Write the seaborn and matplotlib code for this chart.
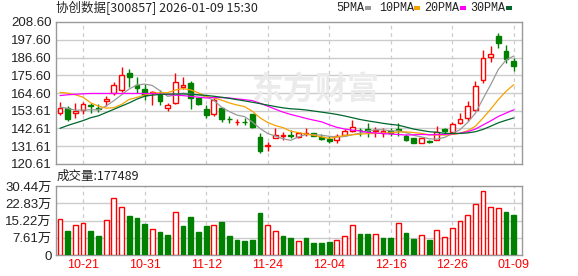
import matplotlib
matplotlib.use("Agg")
import matplotlib.pyplot as plt
from matplotlib.patches import Rectangle
import numpy as np
import pandas as pd
import seaborn as sns

# ---------------- data ----------------
dates = ["10-16", "10-17", "10-20", "10-21", "10-22", "10-23", "10-24", "10-27", "10-28", "10-29",
         "10-30", "10-31", "11-03", "11-04", "11-05", "11-06", "11-07", "11-10", "11-11", "11-12",
         "11-13", "11-14", "11-17", "11-18", "11-19", "11-20", "11-21", "11-24", "11-25", "11-26",
         "11-27", "11-28", "12-01", "12-02", "12-03", "12-04", "12-05", "12-08", "12-09", "12-10",
         "12-11", "12-12", "12-15", "12-16", "12-17", "12-18", "12-19", "12-22", "12-23", "12-24",
         "12-25", "12-26", "12-29", "12-30", "12-31", "01-05", "01-06", "01-07", "01-08", "01-09"]

opens = [152.2, 155.3, 152.5, 154.1, 156.9, 155.3, 159.6, 164.6, 166.5, 177.0,
         169.6, 167.1, 164.6, 163.4, 155.3, 158.4, 168.3, 170.8, 161.2, 154.7,
         151.3, 155.3, 148.5, 146.5, 146.9, 151.3, 137.3, 131.8, 137.0, 137.8,
         138.8, 137.5, 139.4, 139.6, 137.5, 135.9, 135.5, 138.4, 141.3, 141.9,
         142.1, 141.0, 139.8, 141.0, 142.4, 137.8, 136.5, 133.4, 135.1, 135.5,
         142.0, 140.6, 146.2, 148.9, 154.1, 172.4, 187.1, 199.9, 190.8, 184.4]
highs = [159.0, 156.6, 158.4, 159.0, 158.7, 157.5, 162.8, 171.4, 180.7, 179.5,
         174.5, 170.2, 165.9, 166.5, 158.4, 176.7, 174.5, 172.0, 162.1, 156.9,
         161.2, 156.2, 150.4, 148.8, 149.1, 151.9, 139.8, 134.2, 142.9, 140.4,
         141.5, 140.6, 142.7, 140.1, 139.5, 137.7, 139.2, 142.1, 147.7, 143.2,
         146.2, 143.4, 142.7, 142.9, 145.8, 139.5, 137.0, 137.0, 135.5, 144.2,
         142.9, 146.8, 152.0, 159.7, 172.0, 191.3, 193.7, 202.0, 194.3, 186.5]
lows = [151.0, 147.3, 149.1, 151.6, 152.5, 152.8, 156.6, 163.4, 165.2, 168.6,
        164.6, 160.3, 157.2, 157.2, 153.5, 157.8, 167.1, 155.0, 156.9, 149.1,
        150.4, 146.9, 146.0, 144.8, 144.5, 143.2, 127.4, 128.4, 136.6, 135.2,
        136.7, 136.9, 138.0, 138.0, 135.2, 133.5, 133.6, 138.0, 140.6, 137.7,
        137.5, 137.5, 137.5, 138.0, 138.0, 134.9, 133.4, 133.4, 133.9, 135.2,
        139.8, 139.6, 145.2, 147.3, 153.6, 171.0, 184.0, 192.7, 183.4, 178.4]
closes = [155.3, 148.5, 153.2, 157.8, 156.3, 155.0, 160.6, 169.6, 175.8, 174.5,
          167.4, 163.4, 165.2, 159.6, 156.9, 171.4, 169.6, 161.5, 157.8, 151.0,
          160.3, 148.5, 148.2, 146.6, 146.4, 143.5, 128.7, 132.4, 138.6, 138.3,
          138.1, 140.0, 139.6, 138.2, 136.4, 134.7, 137.8, 141.1, 143.5, 141.5,
          141.3, 141.6, 141.3, 140.1, 141.5, 135.5, 133.4, 136.5, 134.1, 140.6,
          140.8, 145.2, 148.5, 156.6, 168.9, 186.1, 188.8, 195.8, 185.7, 181.3]
volumes = [157000, 106000, 132000, 140000, 106000, 84000, 153000, 250000, 210000, 172000,
           163000, 137000, 113000, 101000, 88000, 188000, 128000, 168000, 101000, 128000,
           131000, 146000, 84000, 66000, 62000, 66000, 185000, 132000, 106000, 84000,
           75000, 62000, 75000, 53000, 53000, 57000, 66000, 82000, 131000, 93000,
           93000, 91000, 75000, 75000, 140000, 97000, 71000, 87000, 66000, 109000,
           78000, 118000, 149000, 175000, 225000, 281000, 210000, 206000, 190000, 177489]

# moving-average values before enough bars are visible
ma5_head = [156.0, 155.0, 154.0, 154.0]
ma10_head = [165.0, 164.5, 163.5, 162.0, 158.5, 156.5, 155.2, 155.5, 157.5]
ma20_head = [163.0, 163.5, 163.8, 164.1, 164.3, 164.3, 164.3, 164.3, 164.3, 164.3,
             164.3, 164.3, 164.2, 164.0, 163.6, 163.3, 163.0, 162.5, 162.0]
ma30_head = [142.7, 144.5, 146.0, 147.5, 149.3, 150.5, 152.5, 154.5, 156.5, 158.5,
             160.8, 162.6, 163.3, 163.7, 163.9, 164.0, 164.0, 163.8, 163.5, 163.1,
             162.6, 162.0, 161.3, 160.5, 159.7, 158.9, 158.0, 157.1, 156.2]

price_ticks = [120.61, 131.61, 142.61, 153.61, 164.60, 175.60, 186.60, 197.60, 208.60]
vol_ticks = [0, 76100, 152200, 228300, 304400]
vol_tick_labels = ["0", "7.61万", "15.22万", "22.83万", "30.44万"]
label_dates = ["10-21", "10-31", "11-12", "11-24", "12-04", "12-16", "12-26", "01-09"]
title_text = "协创数据[300857] 2026-01-09 15:30"
ma_names = ["5PMA", "10PMA", "20PMA", "30PMA"]

# ---------------- style ----------------
sns.set_theme(style="white")
plt.rcParams["font.family"] = ["Liberation Sans", "Noto Sans CJK SC", "DejaVu Sans"]

RED = "#ff0000"
GREEN = "#008000"
MA_COLORS = ["#999999", "#f5a300", "#ff00ff", "#00662e"]
GRID = "#cccccc"
FRAME = "#999999"

W, H = 578, 276
fig = plt.figure(figsize=(W / 100, H / 100), dpi=100)
fig.patch.set_facecolor("white")

def fx(px):
    return px / W

def fy(py):
    return 1 - py / H

L, R = 56, 522
ax = fig.add_axes([fx(L), fy(164), fx(R - L), fy(22) - fy(164)])
axv = fig.add_axes([fx(L), fy(255), fx(R - L), fy(186) - fy(255)])

n = len(dates)
idx = np.arange(n)
o = np.array(opens); h = np.array(highs); lo = np.array(lows); c = np.array(closes)
v = np.array(volumes)

cs = pd.Series(closes)
def ma(period, head):
    rolled = cs.rolling(period).mean().to_numpy()[period - 1:]
    return np.concatenate([np.array(head), rolled])

mas = [ma(5, ma5_head), ma(10, ma10_head), ma(20, ma20_head), ma(30, ma30_head)]

label_idx = [dates.index(d) for d in label_dates]
xlim = (-0.52, n - 1 + 1.07)

for a in (ax, axv):
    a.set_xlim(*xlim)
    a.set_facecolor("white")
    for s in a.spines.values():
        s.set_color(FRAME)
        s.set_linewidth(1)
    for xi in label_idx:
        a.axvline(xi, color=GRID, lw=0.9, ls=(0, (3, 3)), zorder=0.5)
    a.tick_params(length=0, pad=3)

# price panel
ax.set_ylim(price_ticks[0], price_ticks[-1])
ax.set_yticks(price_ticks)
ax.set_yticklabels([f"{t:.2f}" for t in price_ticks], fontsize=9.5, color="#222222")
for t in price_ticks[1:-1]:
    ax.axhline(t, color=GRID, lw=1, zorder=0.5)
ax.set_xticks([])

# watermark
ax.text(fx(315), fy(91), "东方财富", transform=fig.transFigure, ha="center", va="center",
        fontsize=23, fontweight="bold", color="#ebebeb", family=["Noto Sans CJK SC"], zorder=0.6)

up = c >= o
bw = 0.62
# wicks
ax.vlines(idx[up], lo[up], h[up], color=RED, lw=1, zorder=2)
ax.vlines(idx[~up], lo[~up], h[~up], color=GREEN, lw=1, zorder=2)
# bodies
body_lo = np.minimum(o, c)
body_h = np.maximum(np.abs(c - o), 0.35)
ax.bar(idx[up], body_h[up], bottom=body_lo[up], width=bw, facecolor="white",
       edgecolor=RED, linewidth=1, zorder=3)
ax.bar(idx[~up], body_h[~up], bottom=body_lo[~up], width=bw, facecolor=GREEN,
       edgecolor=GREEN, linewidth=1, zorder=3)

for m, col in zip(mas, MA_COLORS):
    sns.lineplot(x=idx, y=m, ax=ax, color=col, lw=0.9, zorder=4)
ax.set_ylabel("")

# volume panel
prev_close = np.concatenate([[o[0]], c[:-1]])
vup = c >= prev_close
axv.set_ylim(0, vol_ticks[-1])
axv.set_yticks(vol_ticks)
axv.set_yticklabels(vol_tick_labels, fontsize=9.5, color="#222222")
for t in vol_ticks[1:-1]:
    axv.axhline(t, color=GRID, lw=1, zorder=0.5)
axv.bar(idx[vup], v[vup], width=bw, facecolor="white", edgecolor=RED, linewidth=1, zorder=3)
axv.bar(idx[~vup], v[~vup], width=bw, facecolor=GREEN, edgecolor=GREEN, linewidth=1, zorder=3)
axv.set_xticks(label_idx)
axv.set_xticklabels(label_dates, color=RED, fontsize=9)

# header texts
fig.text(fx(56), fy(8), title_text, fontsize=9, va="center", ha="left", color="#222222",
         family=["Noto Sans CJK SC", "DejaVu Sans"])
fig.text(fx(57), fy(176), f"成交量:{volumes[-1]}", fontsize=9, va="center", ha="left",
         color="#222222", family=["Noto Sans CJK SC", "DejaVu Sans"])

leg_x = [336, 379, 424, 470]
sq_x = [365, 414, 460, 506]
for name, col, tx, sx in zip(ma_names, MA_COLORS, leg_x, sq_x):
    fig.text(fx(tx), fy(8), name, fontsize=8.5, va="center", ha="left", color="#222222",
             family=["Liberation Mono"])
    fig.patches.append(Rectangle((fx(sx), fy(10)), fx(6), fy(6) - fy(10),
                                 transform=fig.transFigure, facecolor=col, edgecolor="none"))

fig.savefig("out.png", dpi=100, facecolor="white")
